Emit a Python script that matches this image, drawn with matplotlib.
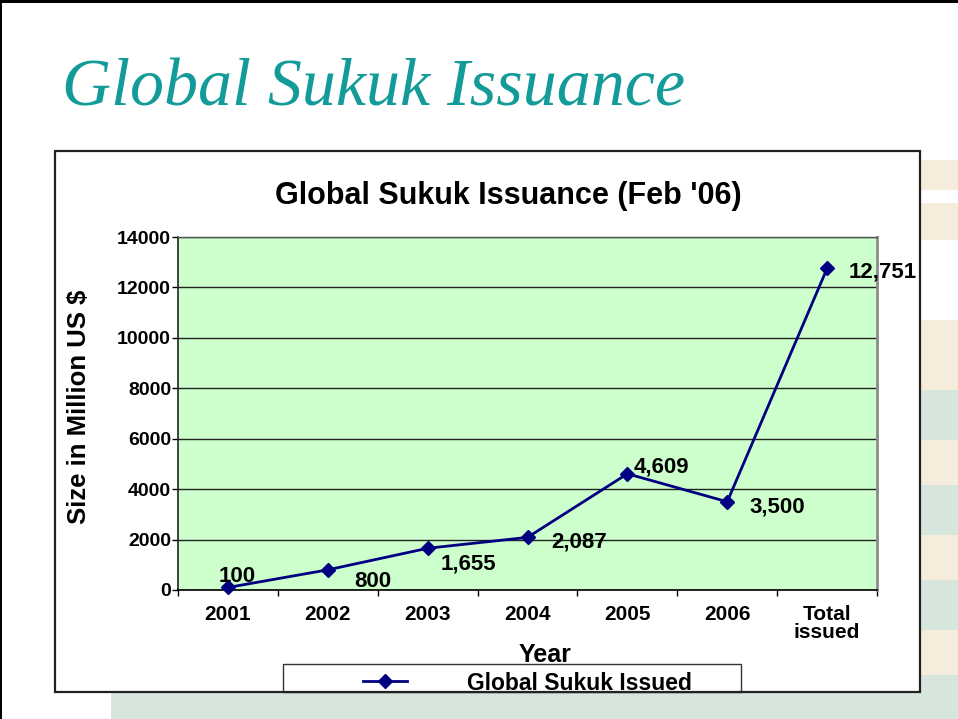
import numpy as np
import matplotlib.pyplot as plt
from matplotlib.patches import Rectangle

categories = ['2001', '2002', '2003', '2004', '2005', '2006', 'Total\nissued']
issued = [100, 800, 1655, 2087, 4609, 3500, 12751]
value_labels = ['100', '800', '1,655', '2,087', '4,609', '3,500', '12,751']
yticks = [0, 2000, 4000, 6000, 8000, 10000, 12000, 14000]

# hand placed data labels, offset from each point in pixels (x right, y up)
label_offsets = [(9, 11), (45, -12), (41, -16), (52, -5), (34, 7), (50, -5), (56, -4)]

W, H = 958, 719
TEAL = '#129B98'
NAVY = '#000080'
BEIGE = '#F5ECDB'
SAGE = '#D6E6DC'

plt.rcParams['font.family'] = 'Liberation Sans'
plt.rcParams['font.weight'] = 'bold'

fig = plt.figure(figsize=(W / 100, H / 100), dpi=100)

# slide background drawn in pixel coordinates
bg = fig.add_axes([0, 0, 1, 1], zorder=-10)
bg.set_xlim(0, W)
bg.set_ylim(H, 0)
bg.axis('off')

stripes = [(160, 190, BEIGE), (203, 240, BEIGE), (320, 390, BEIGE),
           (390, 440, SAGE), (440, 485, BEIGE), (485, 535, SAGE),
           (535, 580, BEIGE), (580, 630, SAGE), (630, 675, BEIGE),
           (675, 719, SAGE)]
for top, bot, c in stripes:
    bg.add_patch(Rectangle((111, top), W - 111, bot - top, color=c, lw=0))

bg.add_patch(Rectangle((0, 0), W, 3, color='black', lw=0))
bg.add_patch(Rectangle((0, 0), 2, H, color='black', lw=0))

# chart area box
bg.add_patch(Rectangle((55, 151), 865, 541, fc='white', ec='none'))
# legend frame (bottom edge hidden by chart box)
bg.add_patch(Rectangle((283, 664), 458, 28, fc='white', ec='#333333', lw=1))
bg.add_patch(Rectangle((55, 151), 865, 541, fill=False, ec='#222222', lw=1.6))

fig.text(62 / W, 1 - 106 / H, 'Global Sukuk Issuance', family='Liberation Serif',
         style='italic', weight='normal', size=49, color=TEAL, ha='left', va='baseline')

ax = fig.add_axes([178 / W, 1 - 590 / H, 699 / W, 353 / H])
ax.set_facecolor('#CCFFCC')

x = np.arange(len(issued))
ax.plot(x, issued, color=NAVY, lw=2, marker='D', ms=7, label='Global Sukuk Issued',
        clip_on=False, zorder=3)

for xi, yi, lbl, (dx, dy) in zip(x, issued, value_labels, label_offsets):
    ax.annotate(lbl, (xi, yi), xytext=(dx, dy), textcoords='offset pixels',
                ha='center', va='center', fontsize=16, fontweight='bold')

ax.set_xlim(-0.5, len(issued) - 0.5)
ax.set_ylim(0, 14000)
ax.set_yticks(yticks)
ax.set_yticklabels([str(v) for v in yticks])
ax.set_xticks(x)
ax.set_xticklabels(categories, linespacing=0.9)
ax.set_xticks(np.arange(-0.5, len(issued)), minor=True)

ax.yaxis.grid(True, color='#222222', lw=1)
ax.set_axisbelow(True)

ax.tick_params(axis='y', direction='out', length=4, width=1, pad=1, labelsize=14)
ax.tick_params(axis='x', which='major', length=0, pad=11, labelsize=15)
ax.tick_params(axis='x', which='minor', direction='out', length=4, width=1)

ax.spines['left'].set(color='#222222', lw=1.2)
ax.spines['bottom'].set(color='black', lw=1.2)
ax.spines['right'].set(color='#8C8C8C', lw=2)
ax.spines['top'].set(color='#555555', lw=1)

ax.set_ylabel(r'Size in Million US \$', fontsize=18.5, fontweight='bold')
ax.yaxis.set_label_coords((79 - 178) / 699, (590 - 407) / 353)
ax.yaxis.label.set_va('center')

ax.set_xlabel('Year', fontsize=18, fontweight='bold')
ax.xaxis.set_label_coords((545 - 178) / 699, (590 - 655) / 353)
ax.xaxis.label.set_va('center')

fig.text(508 / W, 1 - 196 / H, "Global Sukuk Issuance (Feb '06)", ha='center',
         va='center', fontsize=22, fontweight='bold')

ax.legend(loc='center left', bbox_to_anchor=(363 / W, 1 - 683 / H),
          bbox_transform=fig.transFigure, frameon=False, borderpad=0,
          borderaxespad=0, handlelength=1.9, handletextpad=2.63, numpoints=1,
          prop=dict(size=16.5, weight='bold'))

fig.savefig('out.png', dpi=100)
